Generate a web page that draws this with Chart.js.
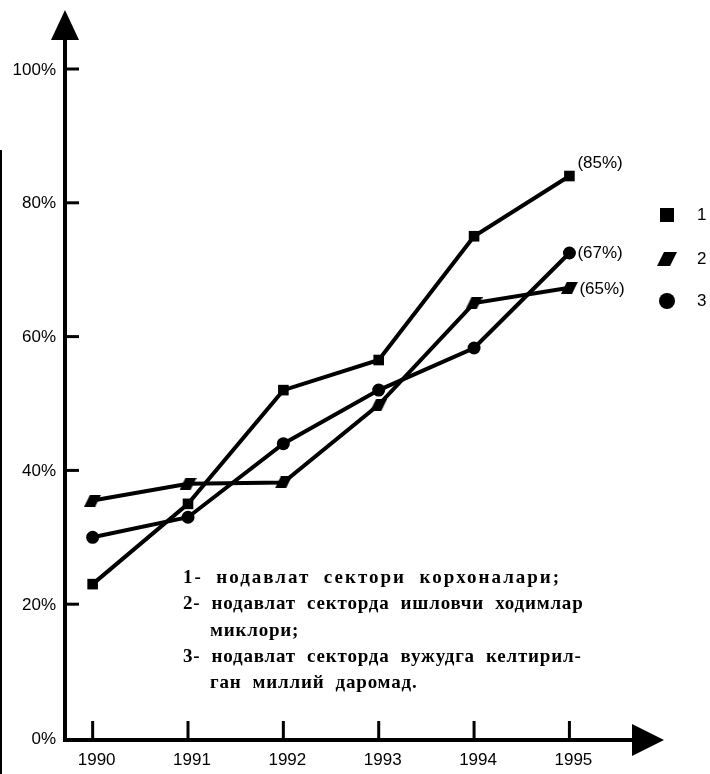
<!DOCTYPE html>
<html lang="uz">
  <head>
    <meta charset="UTF-8" />
    <title>Нодавлат сектор улуши</title>
    <script src="https://cdn.jsdelivr.net/npm/chart.js"></script>
    <style>
      body {
        margin: 0;
        background: #fff;
      }
      .chart-container {
        width: 710px;
        height: 774px;
      }
    </style>
  </head>
  <body>
    <div class="chart-container">
      <canvas id="lineChart"></canvas>
    </div>

    <script>
      const years = [1990, 1991, 1992, 1993, 1994, 1995];
      const series1 = [23, 35, 52, 56.5, 75, 84];
      const series2 = [35.5, 38, 38.2, 49.8, 65, 67.3];
      const series3 = [30, 33, 44, 52, 58.3, 72.5];
      const yTicks = [0, 20, 40, 60, 80, 100];
      const endLabels = ["(85%)", "(65%)", "(67%)"];
      const legendNames = ["1", "2", "3"];
      // text, indent, letter spacing
      const caption = [
        ["1-  нодавлат  сектори  корхоналари;", 0, 2],
        ["2-  нодавлат  секторда  ишловчи  ходимлар", 0, 0.8],
        ["миклори;", 27, 0.8],
        ["3-  нодавлат  секторда  вужудга  келтирил-", 0, 0.8],
        ["ган  миллий  даромад.", 27, 0.8],
      ];

      const tickFont = "17px 'Liberation Sans Narrow', 'Liberation Sans', Arial, sans-serif";

      // parallelogram marker for series 2
      function makeSlant(w, h) {
        const c = document.createElement("canvas");
        c.width = w;
        c.height = h;
        const g = c.getContext("2d");
        g.fillStyle = "#000";
        g.beginPath();
        g.moveTo(w * 0.35, 0);
        g.lineTo(w, 0);
        g.lineTo(w * 0.65, h);
        g.lineTo(0, h);
        g.closePath();
        g.fill();
        return c;
      }
      const slant = makeSlant(17, 12);
      const slantBig = makeSlant(20, 14);

      const toPts = (vals) => vals.map((v, i) => ({ x: years[i], y: v }));

      const axesPlugin = {
        id: "axes",
        afterDraw(chart) {
          const c = chart.ctx;
          const xs = chart.scales.x;
          const ys = chart.scales.y;
          const x0 = xs.left;
          const y0 = ys.getPixelForValue(0) + 2;
          c.save();
          c.fillStyle = "#000";
          c.strokeStyle = "#000";

          // y axis + arrow
          c.lineWidth = 4;
          c.beginPath();
          c.moveTo(x0, y0 + 2);
          c.lineTo(x0, 36);
          c.stroke();
          c.beginPath();
          c.moveTo(x0, 10);
          c.lineTo(x0 - 14, 40);
          c.lineTo(x0 + 14, 40);
          c.closePath();
          c.fill();

          // x axis + arrow
          c.beginPath();
          c.moveTo(x0 - 2, y0);
          c.lineTo(xs.right - 26, y0);
          c.stroke();
          c.beginPath();
          c.moveTo(xs.right + 4, y0);
          c.lineTo(xs.right - 28, y0 - 16);
          c.lineTo(xs.right - 28, y0 + 16);
          c.closePath();
          c.fill();

          // y ticks (inside) and labels
          c.lineWidth = 3;
          c.font = tickFont;
          c.textAlign = "right";
          c.textBaseline = "middle";
          yTicks.forEach((t) => {
            const py = ys.getPixelForValue(t);
            if (t > 0) {
              c.beginPath();
              c.moveTo(x0, py);
              c.lineTo(x0 + 14, py);
              c.stroke();
            }
            c.fillText(t + "%", x0 - 9, py + 1);
          });

          // x ticks (upward) and labels
          c.textAlign = "center";
          c.textBaseline = "top";
          years.forEach((yr) => {
            const px = xs.getPixelForValue(yr);
            c.beginPath();
            c.moveTo(px, y0);
            c.lineTo(px, y0 - 19);
            c.stroke();
            c.fillText(String(yr), px + 4, y0 + 12);
          });

          // faint scan edge on the left
          c.lineWidth = 2;
          c.beginPath();
          c.moveTo(1, 150);
          c.lineTo(1, 774);
          c.stroke();

          // end-of-line labels
          c.font = tickFont;
          c.textAlign = "left";
          c.textBaseline = "middle";
          const offs = [[8, -13], [10, 2], [8, 0]];
          chart.data.datasets.forEach((ds, i) => {
            const pts = chart.getDatasetMeta(i).data;
            const p = pts[pts.length - 1];
            c.fillText(endLabels[i], p.x + offs[i][0], p.y + offs[i][1]);
          });

          // legend
          const lx = 667;
          const ly = [215, 259, 301];
          c.font = "17px 'Liberation Sans', Arial, sans-serif";
          ly.forEach((yy, i) => {
            if (i === 0) {
              c.fillRect(lx - 7, yy - 7, 14, 14);
            } else if (i === 1) {
              c.drawImage(slantBig, lx - 10, yy - 7);
            } else {
              c.beginPath();
              c.arc(lx, yy, 8, 0, Math.PI * 2);
              c.fill();
            }
            c.fillText(legendNames[i], lx + 30, yy);
          });

          // caption
          c.font = "bold 19px 'Liberation Serif', 'Times New Roman', serif";
          c.textBaseline = "middle";
          caption.forEach((line, i) => {
            c.letterSpacing = line[2] + "px";
            c.fillText(line[0], 183 + line[1], 578 + i * 26.3);
          });
          c.restore();
        },
      };

      const common = {
        borderColor: "#000",
        backgroundColor: "#000",
        borderWidth: 4,
        tension: 0,
        pointBorderWidth: 0,
        pointHoverRadius: 7,
      };

      new Chart(document.getElementById("lineChart"), {
        type: "line",
        data: {
          datasets: [
            { ...common, label: "1", data: toPts(series1), pointStyle: "rect", pointRadius: 7.5 },
            { ...common, label: "2", data: toPts(series2), pointStyle: slant, pointRadius: 7 },
            { ...common, label: "3", data: toPts(series3), pointStyle: "circle", pointRadius: 6.5 },
          ],
        },
        options: {
          responsive: true,
          maintainAspectRatio: false,
          animation: false,
          layout: { padding: { left: 65, right: 50, top: 69, bottom: 36 } },
          plugins: { legend: { display: false }, tooltip: { enabled: false } },
          scales: {
            x: { type: "linear", min: 1989.71, max: 1995.95, display: false },
            y: { min: 0, max: 100, display: false },
          },
        },
        plugins: [axesPlugin],
      });
    </script>
  </body>
</html>
